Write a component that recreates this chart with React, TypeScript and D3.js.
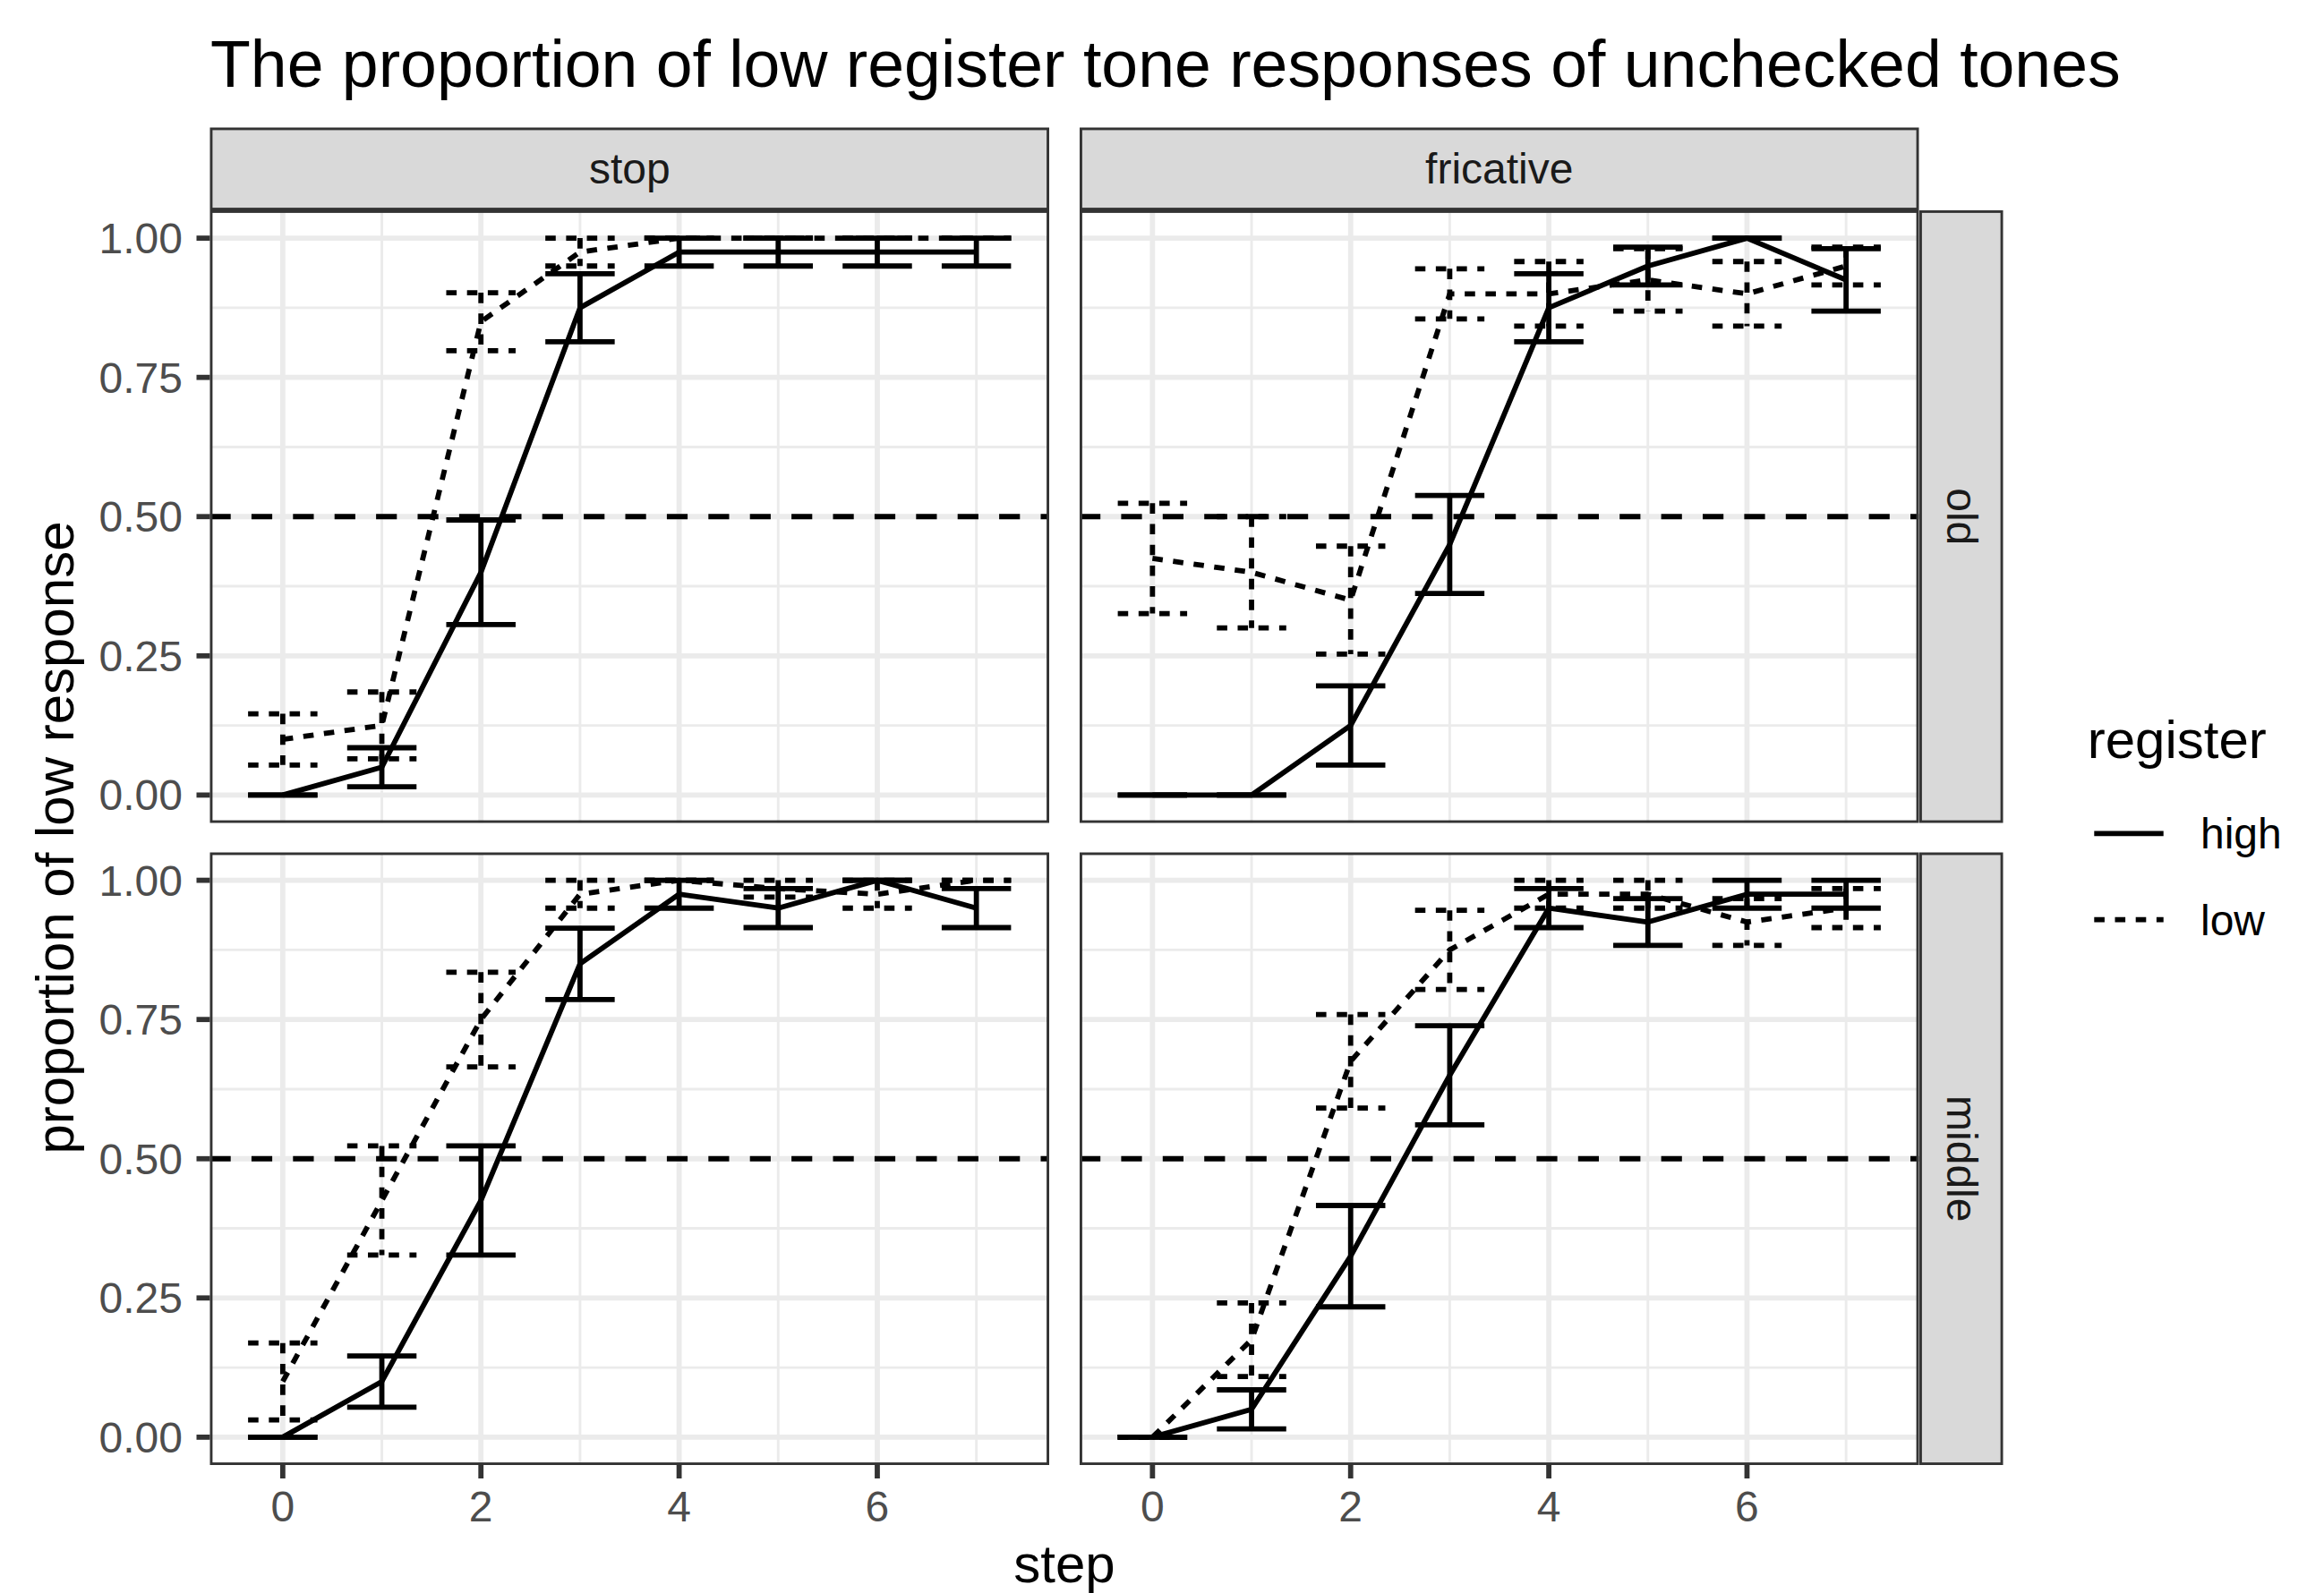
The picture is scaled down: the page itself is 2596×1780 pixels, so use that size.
import React from "react";
import * as d3 from "d3";

// facets and legend
const steps = [0, 1, 2, 3, 4, 5, 6, 7];
const manners = ["stop", "fricative"];
const ages = ["old", "middle"];
const registers = ["high", "low"];
const yTicks = [0, 0.25, 0.5, 0.75, 1];
const yMinor = [0.125, 0.375, 0.625, 0.875];
const xTicks = [0, 2, 4, 6];
const xMinor = [1, 3, 5, 7];

// proportion of low response (mean) and standard error, per step
const stopOldHighMean = [0, 0.05, 0.4, 0.875, 0.975, 0.975, 0.975, 0.975];
const stopOldHighSe = [0, 0.035, 0.094, 0.061, 0.025, 0.025, 0.025, 0.025];
const stopOldLowMean = [0.1, 0.125, 0.85, 0.975, 1, 1, 1, 1];
const stopOldLowSe = [0.046, 0.06, 0.052, 0.025, 0, 0, 0, 0];

const fricOldHighMean = [0, 0, 0.125, 0.45, 0.875, 0.95, 1, 0.925];
const fricOldHighSe = [0, 0, 0.071, 0.088, 0.061, 0.034, 0, 0.056];
const fricOldLowMean = [0.425, 0.4, 0.35, 0.9, 0.9, 0.925, 0.9, 0.95];
const fricOldLowSe = [0.099, 0.1, 0.097, 0.045, 0.058, 0.056, 0.058, 0.034];

const stopMidHighMean = [0, 0.1, 0.425, 0.85, 0.975, 0.95, 1, 0.95];
const stopMidHighSe = [0, 0.046, 0.098, 0.064, 0.025, 0.035, 0, 0.035];
const stopMidLowMean = [0.1, 0.425, 0.75, 0.975, 1, 0.985, 0.975, 1];
const stopMidLowSe = [0.069, 0.098, 0.085, 0.025, 0, 0.015, 0.025, 0];

const fricMidHighMean = [0, 0.05, 0.325, 0.65, 0.95, 0.925, 0.975, 0.975];
const fricMidHighSe = [0, 0.035, 0.091, 0.089, 0.035, 0.042, 0.025, 0.025];
const fricMidLowMean = [0, 0.175, 0.675, 0.875, 0.975, 0.975, 0.925, 0.95];
const fricMidLowSe = [0, 0.066, 0.084, 0.071, 0.025, 0.025, 0.042, 0.035];

// [age][manner][register] -> [mean, se]
const table = [
  [
    [[stopOldHighMean, stopOldHighSe], [stopOldLowMean, stopOldLowSe]],
    [[fricOldHighMean, fricOldHighSe], [fricOldLowMean, fricOldLowSe]],
  ],
  [
    [[stopMidHighMean, stopMidHighSe], [stopMidLowMean, stopMidLowSe]],
    [[fricMidHighMean, fricMidHighSe], [fricMidLowMean, fricMidLowSe]],
  ],
];

const W = 2596;
const H = 1780;
const panelW = 937.5;
const panelH = 684.5;
const colX = [234.5, 1206];
const rowY = [235, 952.5];
const stripTop = 142.5;
const stripH = 92.5;
const stripRX = 2144;
const stripRW = 93.5;
const LW = 5.8;
const FONT = "'Liberation Sans', Arial, Helvetica, sans-serif";
const dashFor = (r: string) => (r === "low" ? `${2 * LW} ${2 * LW}` : undefined);

const App = () => {
  const xs = colX.map((x0) =>
    d3.scaleLinear().domain([-0.735, 7.735]).range([x0, x0 + panelW])
  );
  const ys = rowY.map((y0) =>
    d3.scaleLinear().domain([-0.05, 1.05]).range([y0 + panelH, y0])
  );

  const panels: React.ReactNode[] = [];
  ages.forEach((age, ri) => {
    manners.forEach((manner, ci) => {
      const x = xs[ci];
      const y = ys[ri];
      const x0 = colX[ci];
      const y0 = rowY[ri];
      const id = `clip-${ri}-${ci}`;
      const line = d3
        .line<number>()
        .x((_, i) => x(steps[i]))
        .y((d) => y(d));

      panels.push(
        <g key={id}>
          <defs>
            <clipPath id={id}>
              <rect x={x0} y={y0} width={panelW} height={panelH} />
            </clipPath>
          </defs>
          <rect x={x0} y={y0} width={panelW} height={panelH} fill="#fff" />
          <g clipPath={`url(#${id})`}>
            {xMinor.map((t) => (
              <line key={"xm" + t} x1={x(t)} x2={x(t)} y1={y0} y2={y0 + panelH} stroke="#ebebeb" strokeWidth={LW / 2} />
            ))}
            {yMinor.map((t) => (
              <line key={"ym" + t} x1={x0} x2={x0 + panelW} y1={y(t)} y2={y(t)} stroke="#ebebeb" strokeWidth={LW / 2} />
            ))}
            {xTicks.map((t) => (
              <line key={"xg" + t} x1={x(t)} x2={x(t)} y1={y0} y2={y0 + panelH} stroke="#ebebeb" strokeWidth={LW} />
            ))}
            {yTicks.map((t) => (
              <line key={"yg" + t} x1={x0} x2={x0 + panelW} y1={y(t)} y2={y(t)} stroke="#ebebeb" strokeWidth={LW} />
            ))}
            <line x1={x0} x2={x0 + panelW} y1={y(0.5)} y2={y(0.5)} stroke="#000" strokeWidth={LW} strokeDasharray={`${4 * LW} ${4 * LW}`} />
            {registers.map((reg, gi) => {
              const [mean, se] = table[ri][ci][gi];
              return (
                <g key={reg} fill="none" stroke="#000" strokeWidth={LW} strokeDasharray={dashFor(reg)} strokeLinejoin="round">
                  <path d={line(mean) || ""} />
                  {steps.map((s, i) => {
                    const top = y(mean[i] + se[i]);
                    const bot = y(mean[i] - se[i]);
                    const l = x(s - 0.35);
                    const r = x(s + 0.35);
                    return (
                      <g key={s}>
                        <path d={`M${l},${top}H${r}`} />
                        <path d={`M${x(s)},${top}V${bot}`} />
                        <path d={`M${l},${bot}H${r}`} />
                      </g>
                    );
                  })}
                </g>
              );
            })}
          </g>
          <rect x={x0 + LW / 4} y={y0 + LW / 4} width={panelW - LW / 2} height={panelH - LW / 2} fill="none" stroke="#333" strokeWidth={LW / 2} />
        </g>
      );
    });
  });

  return (
    <div>
      <style>{"body{margin:0}"}</style>
      <svg width={W} height={H} style={{ display: "block" }} fontFamily={FONT}>
        <rect width={W} height={H} fill="#fff" />
        <text x={235} y={97} fontSize={73.4} fill="#000">
          The proportion of low register tone responses of unchecked tones
        </text>

        {/* top strips */}
        {manners.map((m, ci) => (
          <g key={m}>
            <rect x={colX[ci] + LW / 4} y={stripTop + LW / 4} width={panelW - LW / 2} height={stripH - LW / 2} fill="#d9d9d9" stroke="#333" strokeWidth={LW / 2} />
            <text x={colX[ci] + panelW / 2} y={205} fontSize={48} fill="#1a1a1a" textAnchor="middle">
              {m}
            </text>
          </g>
        ))}

        {/* right strips */}
        {ages.map((a, ri) => (
          <g key={a}>
            <rect x={stripRX + LW / 4} y={rowY[ri] + LW / 4} width={stripRW - LW / 2} height={panelH - LW / 2} fill="#d9d9d9" stroke="#333" strokeWidth={LW / 2} />
            <text transform={`translate(${stripRX + stripRW / 2},${rowY[ri] + panelH / 2}) rotate(90)`} y={16.25} fontSize={48} fill="#1a1a1a" textAnchor="middle">
              {a}
            </text>
          </g>
        ))}

        {panels}

        {/* y axis */}
        {ages.map((a, ri) => (
          <g key={"ya" + a}>
            {yTicks.map((t) => (
              <g key={t}>
                <line x1={colX[0] - 15} x2={colX[0]} y1={ys[ri](t)} y2={ys[ri](t)} stroke="#333" strokeWidth={LW} />
                <text x={204} y={ys[ri](t) + 17} fontSize={48} fill="#4d4d4d" textAnchor="end">
                  {d3.format(".2f")(t)}
                </text>
              </g>
            ))}
          </g>
        ))}

        {/* x axis */}
        {manners.map((m, ci) => (
          <g key={"xa" + m}>
            {xTicks.map((t) => (
              <g key={t}>
                <line x1={xs[ci](t)} x2={xs[ci](t)} y1={rowY[1] + panelH} y2={rowY[1] + panelH + 15} stroke="#333" strokeWidth={LW} />
                <text x={xs[ci](t)} y={1700} fontSize={48} fill="#4d4d4d" textAnchor="middle">
                  {t}
                </text>
              </g>
            ))}
          </g>
        ))}

        <text x={(colX[0] + colX[1] + panelW) / 2} y={1768} fontSize={60} textAnchor="middle" fill="#000">
          step
        </text>
        <text transform={`translate(81.7,${(rowY[0] + rowY[1] + panelH) / 2}) rotate(-90)`} fontSize={60} textAnchor="middle" fill="#000">
          proportion of low response
        </text>

        {/* legend */}
        <text x={2331.7} y={846.7} fontSize={60} fill="#000">
          register
        </text>
        {registers.map((reg, gi) => {
          const cy = 931.3 + gi * 96.4;
          return (
            <g key={"lg" + reg}>
              <line x1={2339.3} x2={2416.7} y1={cy} y2={cy} stroke="#000" strokeWidth={LW} strokeDasharray={dashFor(reg)} />
              <text x={2458} y={cy + 17} fontSize={48} fill="#000">
                {reg}
              </text>
            </g>
          );
        })}
      </svg>
    </div>
  );
};

export default App;
